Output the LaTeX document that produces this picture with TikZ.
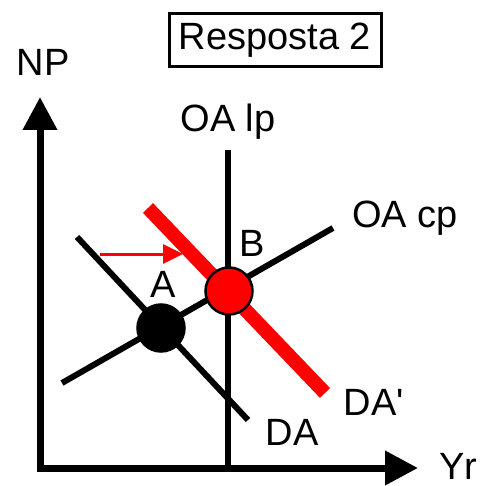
\documentclass[tikz,border=0pt]{standalone}
\usepackage{fontspec}
\setmainfont{Liberation Sans}
\usetikzlibrary{arrows.meta}
\begin{document}
\begin{tikzpicture}[x=1pt,y=1pt,
  lbl/.style={font=\fontsize{38}{44}\selectfont, inner sep=0pt},
  blk/.style={line width=6pt, black},
  axis/.style={line width=7pt, -{Triangle[length=33pt,width=33pt]}},
  pt/.style={circle, draw=black, line width=2.5pt, minimum size=47pt, inner sep=0pt}]
\useasboundingbox (0,0) rectangle (484,-486);
% title box
\node[lbl, draw, line width=3pt, minimum width=212pt, minimum height=53pt] (title) at (275,-40) {Resposta 2};
% axes
\coordinate (O) at (40,-468);
\coordinate (ytop) at (40,-97);
\coordinate (xend) at (418,-468);
\draw[axis] (40,-468) -- (ytop);
\draw[axis] (36.5,-468) -- (xend);
\node[lbl] (NP) at (43,-62) {NP};
\node[lbl] (Yr) at (458,-466) {Yr};
% OA lp
\coordinate (lp1) at (228,-150);
\coordinate (lp2) at (228,-465);
\draw[blk] (lp1) -- (lp2);
\node[lbl] (OAlp) at (228,-122) {OA lp};
% OA cp
\coordinate (cp1) at (62,-383);
\coordinate (cp2) at (333,-228);
\draw[blk] (cp1) -- (cp2);
\node[lbl] (OAcp) at (405,-218) {OA cp};
% DA
\coordinate (da1) at (77,-237);
\coordinate (da2) at (248,-420);
\draw[blk] (da1) -- (da2);
\node[lbl] (DA) at (292,-432) {DA};
% DA'
\coordinate (dap1) at (148,-208);
\coordinate (dap2) at (325,-393);
\draw[line width=14pt, red] (dap1) -- (dap2);
\node[lbl] (DAp) at (374,-402) {DA\textquotesingle};
% points
\node[pt, fill=black] (A) at (161,-328) {};
\node[pt, fill=red] (B) at (229,-291) {};
\node[lbl] (Alab) at (163,-284) {A};
\node[lbl] (Blab) at (252,-243) {B};
% shift arrow
\coordinate (r1) at (100,-254);
\coordinate (r2) at (183,-254);
\draw[red, line width=3pt, -{Triangle[length=20pt,width=19pt]}] (r1) -- (r2);
\end{tikzpicture}
\end{document}
